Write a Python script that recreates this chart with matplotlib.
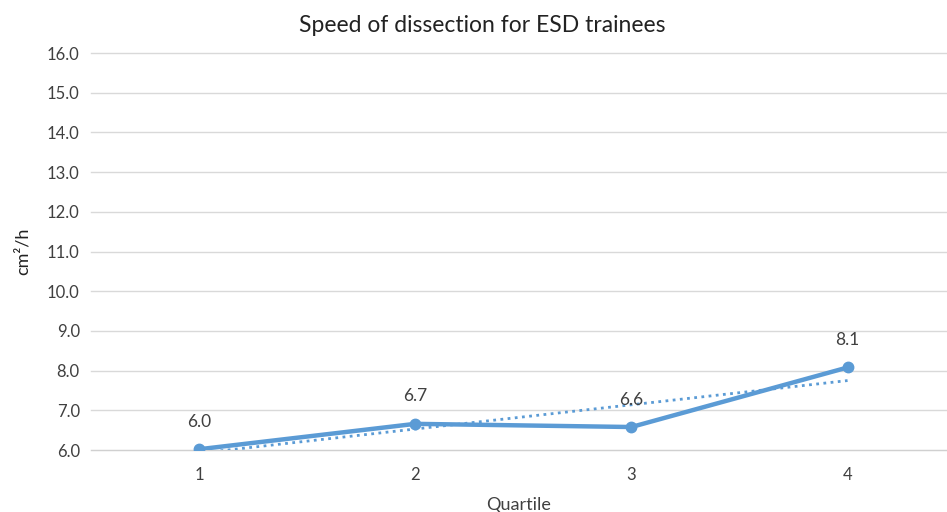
import numpy as np
import matplotlib
matplotlib.use("Agg")
import matplotlib.pyplot as plt

plt.rcParams['font.family'] = ['Lato', 'DejaVu Sans']

# data
quartiles = [1, 2, 3, 4]
speed = [6.02, 6.66, 6.58, 8.08]
yticks = np.arange(6.0, 16.5, 1.0)

blue = "#5B9BD5"
txt = "#404040"

fig = plt.figure(figsize=(9.47, 5.12), dpi=100)
ax = fig.add_axes([0.096, 0.121, 0.904, 0.7754])

# linear trendline
k, b = np.polyfit(quartiles, speed, 1)
xt = np.array([quartiles[0], quartiles[-1]])
ax.plot(xt, k * xt + b, color=blue, lw=2, ls=(0, (1, 1.6)), zorder=3)

ax.plot(quartiles, speed, color=blue, lw=3.2, marker="o", ms=7.5, zorder=4)

for x, y in zip(quartiles, speed):
    ax.annotate(f"{y:.1f}", (x, y), xytext=(0, 14), textcoords="offset points",
                ha="center", va="bottom", fontsize=12.5, color=txt)

ax.set_xlim(0.5, 4.46)
ax.set_ylim(6.0, 16.0)
ax.set_yticks(yticks)
ax.set_yticklabels([f"{v:.1f}" for v in yticks])
ax.set_xticks(quartiles)
ax.set_xticklabels([str(q) for q in quartiles])
ax.grid(axis="y", color="#D9D9D9", lw=1)
for gl in ax.get_ygridlines():
    gl.set_clip_on(False)
ax.set_axisbelow(True)
for s in ax.spines.values():
    s.set_visible(False)
ax.spines["bottom"].set_visible(True)
ax.spines["bottom"].set_color("#D0D0D0")
ax.tick_params(length=0, labelsize=12, labelcolor=txt, pad=8)
ax.tick_params(axis="x", pad=12)

ax.set_xlabel("Quartile", fontsize=13, color=txt, labelpad=10)
ax.set_ylabel("cm²/h", fontsize=13, color="#222222", labelpad=12)
fig.text(482 / 947, 1 - 25 / 512, "Speed of dissection for ESD trainees",
         fontsize=16.5, color="#222222", ha="center", va="center")

fig.savefig("out.png", dpi=100)
